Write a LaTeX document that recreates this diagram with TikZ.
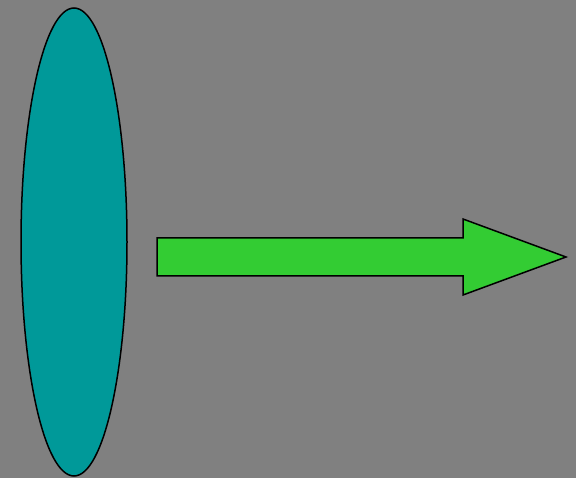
\documentclass[tikz,border=0pt]{standalone}
\definecolor{bggray}{HTML}{808080}
\definecolor{lensteal}{HTML}{009999}
\definecolor{arrowgreen}{HTML}{33CC33}
\begin{document}
\begin{tikzpicture}[x=1pt, y=-1pt, line width=1.5pt, line join=miter]
    \fill[bggray] (0,0) rectangle (576,478);
    \useasboundingbox (0,0) rectangle (576,478);

    \coordinate (C) at (74,242);
    \coordinate (T) at (566,257);

    \draw[fill=lensteal] (C) ellipse [x radius=53, y radius=234];

    \draw[fill=arrowgreen] (157,238) -- (463,238) -- (463,219) -- (T)
        -- (463,295) -- (463,276) -- (157,276) -- cycle;
\end{tikzpicture}
\end{document}
